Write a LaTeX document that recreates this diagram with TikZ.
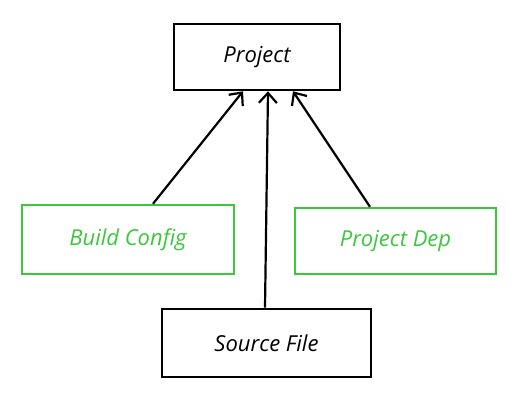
\documentclass[tikz,border=0pt]{standalone}
\usepackage{fontspec}
\setmainfont{Open Sans}
\usepackage{tikz}
\usetikzlibrary{arrows.meta,positioning}
\definecolor{sketchgreen}{HTML}{3CC83C}

\begin{document}
\begin{tikzpicture}[
  x=1pt,y=1pt,
  every node/.style={font=\fontsize{22}{26}\selectfont\itshape},
  box/.style={draw=black,line width=2.6pt,fill=white,inner sep=0pt,align=center},
  greenbox/.style={draw=sketchgreen,line width=2.4pt,fill=white,inner sep=0pt,text=sketchgreen,align=center},
  arrow/.style={-{Straight Barb[length=10pt,width=18pt,line width=2.2pt]},line width=2.2pt,draw=black}
]
\useasboundingbox (0,0) rectangle (517,402);
\node[box,minimum width=166pt,minimum height=66pt] (proj) at (257,345) {Project};
\node[greenbox,minimum width=212pt,minimum height=69pt] (build) at (128,162.5) {Build Config};
\node[greenbox,minimum width=201pt,minimum height=66pt] (dep) at (395.5,161) {Project Dep};
\node[box,minimum width=209pt,minimum height=68pt] (src) at (266.5,59) {Source File};
\draw[arrow] ([xshift=25pt]build.north)--([xshift=-14pt]proj.south);
\draw[arrow] ([xshift=-1.5pt]src.north)--([xshift=11pt]proj.south);
\draw[arrow] ([xshift=-25.5pt]dep.north)--([xshift=36pt]proj.south);
\end{tikzpicture}
\end{document}
